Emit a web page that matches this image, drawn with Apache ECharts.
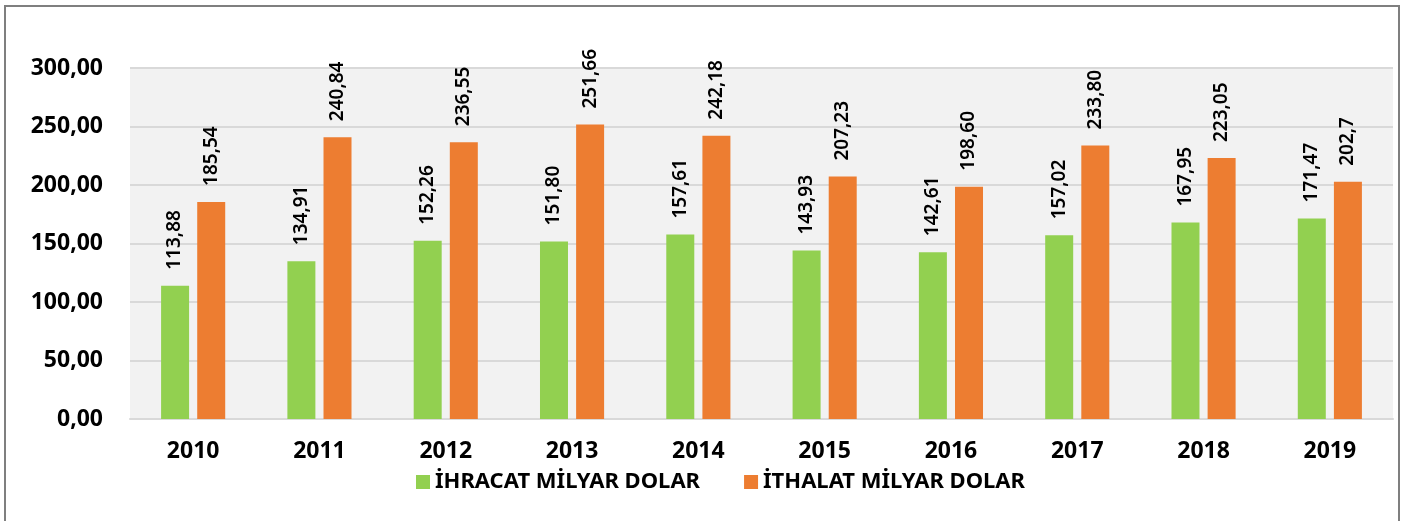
<!DOCTYPE html>
<html>
<head>
<meta charset="utf-8">
<script src="https://cdn.jsdelivr.net/npm/echarts@6/dist/echarts.min.js"></script>
<style>
  html, body { margin: 0; padding: 0; background: #fff; }
  #frame {
    position: absolute; left: 4px; top: 5px; width: 1396px; height: 530px;
    border: 2px solid #7f7f7f; box-sizing: border-box;
  }
  #chart { position: absolute; left: 0; top: 0; width: 1411px; height: 521px; }
</style>
</head>
<body>
<div id="frame"></div>
<div id="chart"></div>
<script>
const years = ["2010", "2011", "2012", "2013", "2014", "2015", "2016", "2017", "2018", "2019"];
const exportValues = [113.88, 134.91, 152.26, 151.80, 157.61, 143.93, 142.61, 157.02, 167.95, 171.47];
const importValues = [185.54, 240.84, 236.55, 251.66, 242.18, 207.23, 198.60, 233.80, 223.05, 202.7];
const exportLabels = ["113,88", "134,91", "152,26", "151,80", "157,61", "143,93", "142,61", "157,02", "167,95", "171,47"];
const importLabels = ["185,54", "240,84", "236,55", "251,66", "242,18", "207,23", "198,60", "233,80", "223,05", "202,7"];
const seriesNames = ["İHRACAT MİLYAR DOLAR", "İTHALAT MİLYAR DOLAR"];

const FONT = "'Noto Sans', sans-serif";

const valueLabel = (labels) => ({
  show: true,
  position: "top",
  rotate: 90,
  align: "left",
  verticalAlign: "middle",
  distance: 16,
  color: "#000",
  fontFamily: FONT,
  fontSize: 19,
  fontWeight: 600,
  formatter: (p) => labels[p.dataIndex],
});

const chart = echarts.init(document.getElementById("chart"));
chart.setOption({
  animation: false,
  textStyle: { fontFamily: FONT },
  grid: {
    left: 130, right: 18, top: 68, bottom: 102,
    show: true, backgroundColor: "#f2f2f2", borderWidth: 0,
  },
  legend: {
    left: 411, top: 466,
    itemWidth: 14, itemHeight: 14, itemGap: 44,
    icon: "rect",
    textStyle: { color: "#000", fontSize: 22, fontWeight: "bold", fontFamily: FONT },
    data: seriesNames,
  },
  xAxis: {
    type: "category",
    data: years,
    axisTick: { show: false },
    axisLine: { lineStyle: { color: "#d9d9d9", width: 2 } },
    axisLabel: { color: "#000", fontSize: 23, fontWeight: "bold", margin: 21 },
  },
  yAxis: {
    type: "value",
    min: 0, max: 300, interval: 50,
    axisLabel: {
      color: "#000", fontSize: 23, fontWeight: "bold", margin: 27,
      formatter: (v) => v.toFixed(2).replace(".", ","),
    },
    splitLine: { lineStyle: { color: "#d9d9d9", width: 2 } },
  },
  series: [
    {
      name: seriesNames[0], type: "bar", data: exportValues,
      barWidth: 28, barGap: "29%",
      itemStyle: { color: "#92d050" },
      label: valueLabel(exportLabels),
    },
    {
      name: seriesNames[1], type: "bar", data: importValues,
      barWidth: 28,
      itemStyle: { color: "#ed7d31" },
      label: valueLabel(importLabels),
    },
  ],
});
</script>
</body>
</html>
